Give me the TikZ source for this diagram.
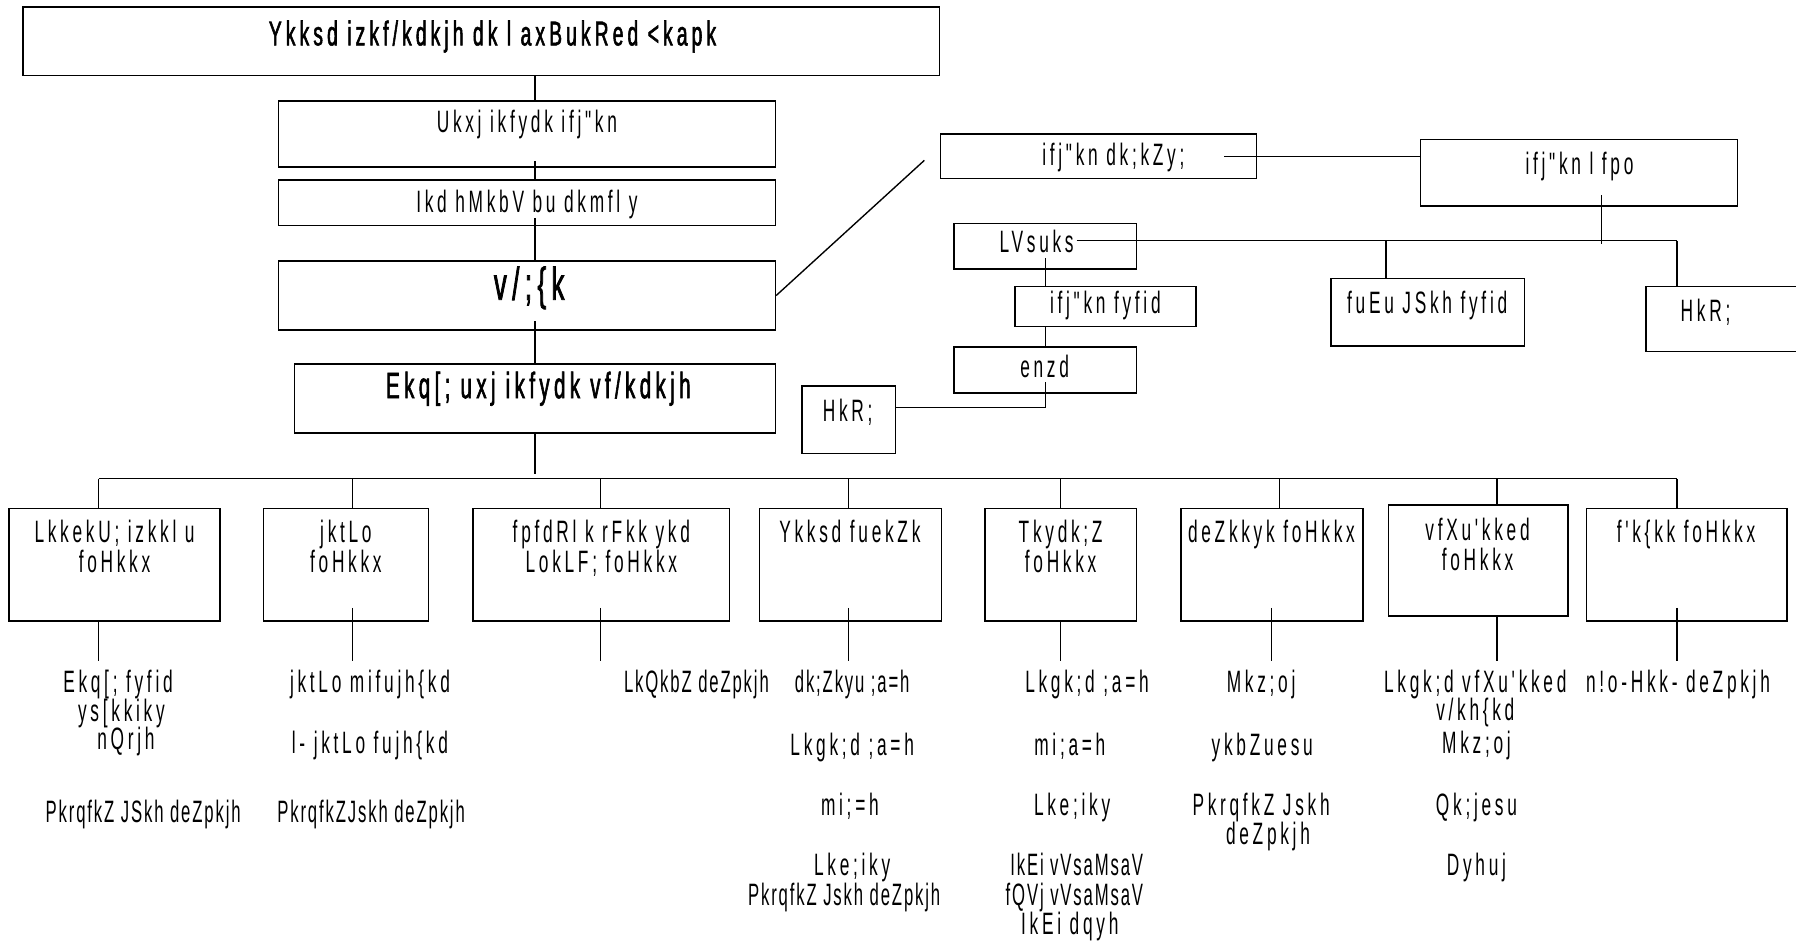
\documentclass[tikz,border=0pt]{standalone}
\usepackage{fontspec}
\setmainfont{Liberation Sans}
\newfontfamily\kf[FakeStretch=0.56,LetterSpace=12]{Liberation Sans}
\newfontfamily\kfn[FakeStretch=0.54,LetterSpace=6]{Liberation Sans}
\newfontfamily\kfb[FakeStretch=0.56,LetterSpace=12,FakeBold=1.6]{Liberation Sans}
\newcommand\mybox[5]{\node[box,minimum width=#4pt,minimum height=#5pt] (#1) at (#2,#3) {};}
\newcommand\mytxt[4]{\node[txt] (#1) at (#2,#3) {#4};}
\newcommand\myntxt[4]{\node[txt,font=\kfn\fontsize{27}{30}\selectfont] (#1) at (#2,#3) {#4};}
\tikzset{
  box/.style={draw, line width=1.3pt, inner sep=0pt, rectangle},
  txt/.style={font=\kf\fontsize{27}{30}\selectfont, inner sep=0pt, anchor=mid, yshift=-5pt},
  conn/.style={line width=1.2pt},
}
\begin{document}
\begin{tikzpicture}[x=1pt,y=-1pt]
\useasboundingbox (0,0) rectangle (1568,829);
% main column
\mybox{T}{420}{36}{800}{60}
\mybox{B1}{460}{117}{434}{58}
\mybox{B2}{460}{177}{434}{40}
\mybox{B3}{460}{258}{434}{60}
\mybox{B4}{467}{348}{420}{60}
\node[txt,font=\kfb\fontsize{30}{32}\selectfont] (tT) at (430,32) {Ykksd izkf/kdkjh dk l axBukRed <kapk};
\mytxt{tB1}{460}{108}{Ukxj ikfydk ifj"kn}
\mytxt{tB2}{460}{178}{Ikd hMkbV bu dkmfl y}
\node[txt,font=\kfb\fontsize{40}{42}\selectfont] (tB3) at (462,254) {v/;\{k};
\node[txt,font=\kfb\fontsize{32}{34}\selectfont] (tB4) at (470,340) {Ekq[; uxj ikfydk vf/kdkjh};
% right part
\mybox{P1}{959}{136.5}{276}{39}
\mybox{P2}{1378.5}{151}{277}{58}
\mybox{S}{912.5}{215}{159}{40}
\mybox{PF}{965}{267.5}{158}{35}
\mybox{EN}{912.5}{323}{159}{40}
\mybox{H1}{741}{366.5}{82}{59}
\mybox{FU}{1246.5}{272.5}{169}{59}
\mybox{H2}{1508.5}{278.5}{143}{57}
\mytxt{tP1}{972}{137}{ifj"kn dk;kZy;}
\mytxt{tP2}{1379}{145}{ifj"kn l fpo}
\mytxt{tS}{905}{213}{LVsuks}
\mytxt{tPF}{965}{266}{ifj"kn fyfid}
\mytxt{tEN}{912}{322}{enzd}
\mytxt{tH1}{740}{360}{HkR;}
\mytxt{tFU}{1246}{266}{fuEu JSkh fyfid}
\mytxt{tH2}{1489}{273}{HkR;}
% bottom boxes
\mybox{D1}{100}{493}{184}{98}
\mybox{D2}{302}{493}{144}{98}
\mybox{D3}{525}{493}{224}{98}
\mybox{D4}{742.5}{493}{159}{98}
\mybox{D5}{926}{493}{132}{98}
\mybox{D6}{1110.5}{493}{159}{98}
\mybox{D7}{1290.5}{489.5}{157}{97}
\mybox{D8}{1472.5}{493}{175}{98}
\mytxt{tD1a}{100}{466}{LkkekU; izkkl u}
\mytxt{tD1b}{100}{492}{foHkkx}
\mytxt{tD2a}{302}{466}{jktLo}
\mytxt{tD2b}{302}{492}{foHkkx}
\mytxt{tD3a}{525}{466}{fpfdRl k rFkk ykd}
\mytxt{tD3b}{525}{492}{LokLF; foHkkx}
\mytxt{tD4a}{742}{466}{Ykksd fuekZk}
\mytxt{tD5a}{926}{466}{Tkydk;Z}
\mytxt{tD5b}{926}{492}{foHkkx}
\mytxt{tD6a}{1110}{466}{deZkkyk foHkkx}
\mytxt{tD7a}{1290}{464}{vfXu'kked}
\mytxt{tD7b}{1290}{490}{foHkkx}
\mytxt{tD8a}{1472}{466}{f'k\{kk foHkkx}
% lists
\mytxt{a1}{103}{597}{Ekq[; fyfid}
\mytxt{a2}{106}{622}{ys[kkiky}
\mytxt{a3}{110}{647}{nQrjh}
\myntxt{a4}{125}{710}{PkrqfkZ JSkh deZpkjh}
\mytxt{b1}{323}{597}{jktLo mifujh\{kd}
\mytxt{b2}{323}{650}{l- jktLo fujh\{kd}
\myntxt{b3}{324}{710}{PkrqfkZJskh deZpkjh}
\myntxt{c1}{608}{597}{LkQkbZ deZpkjh}
\myntxt{d1}{744}{597}{dk;Zkyu ;a=h}
\mytxt{d2}{744}{652}{Lkgk;d ;a=h}
\mytxt{d3}{742}{704}{mi;=h}
\mytxt{d4}{744}{757}{Lke;iky}
\myntxt{d5}{737}{783}{PkrqfkZ Jskh deZpkjh}
\mytxt{e1}{949}{597}{Lkgk;d ;a=h}
\mytxt{e2}{934}{652}{mi;a=h}
\mytxt{e3}{936}{704}{Lke;iky}
\myntxt{e4}{940}{757}{IkEi vVsaMsaV}
\myntxt{e5}{938}{783}{fQVj vVsaMsaV}
\mytxt{e6}{934}{808}{IkEi dqyh}
\mytxt{f1}{1101}{597}{Mkz;oj}
\mytxt{f2}{1102}{652}{ykbZuesu}
\mytxt{f3}{1101}{704}{PkrqfkZ Jskh}
\mytxt{f4}{1107}{730}{deZpkjh}
\mytxt{g1}{1288}{597}{Lkgk;d vfXu'kked}
\mytxt{g2}{1288}{621}{v/kh\{kd}
\mytxt{g3}{1289}{650}{Mkz;oj}
\mytxt{g4}{1289}{704}{Qk;jesu}
\mytxt{g5}{1289}{757}{Dyhuj}
\mytxt{h1}{1465}{597}{n!o-Hkk- deZpkjh}
% connectors main column
\draw[conn] (B4.center |- T.south) -- (B4.center |- B1.north);
\draw[conn] ([yshift=6pt]B4.center |- B1.south) -- (B4.center |- B2.north);
\draw[conn] ([yshift=7pt]B4.center |- B2.south) -- (B4.center |- B3.north);
\draw[conn] ([yshift=8pt]B4.center |- B3.south) -- (B4.north);
\coordinate (busL) at (86,418);
\coordinate (busR) at (1464,418);
\draw[conn] (B4.south) -- ([yshift=-35pt]B4.south);
\draw[conn] (busL) -- (busR);
\foreach \n/\x in {D1/86,D2/308,D3/524,D4/741,D5/926,D6/1117,D7/1307,D8/1464}{
  \draw[conn] (\x,418) -- (\x,0 |- \n.north);
}
\foreach \n/\x/\s in {D1/86/0,D2/308/12,D3/524/12,D4/741/12,D5/926/0,D6/1110/12,D7/1307/0,D8/1464/12}{
  \draw[conn] ([yshift=\s pt]\x,0 |- \n.south) -- (\x,577);
}
% right part connectors
\coordinate (pe) at (807,140);
\draw[conn] (B3.east) -- (pe);
\draw[conn] ([xshift=-29pt]P1.east) -- (P2.west |- P1.east);
\coordinate (hL) at (940,210);
\coordinate (hR) at (1464,210);
\draw[conn] ([yshift=10pt]1398,0 |- P2.south) -- (1398,213);
\draw[conn] (hL) -- (hR);
\draw[conn] (1210,210) -- (1210,0 |- FU.north);
\draw[conn] (hR) -- (1464,0 |- H2.north);
\draw[conn] ([yshift=10pt]S.south) -- (S.south |- PF.north);
\draw[conn] (S.south |- PF.south) -- (EN.north);
\draw[conn] ([yshift=10pt]EN.south) -- (EN.center |- 0,356) -- (H1.east |- 0,356);
\end{tikzpicture}
\end{document}
